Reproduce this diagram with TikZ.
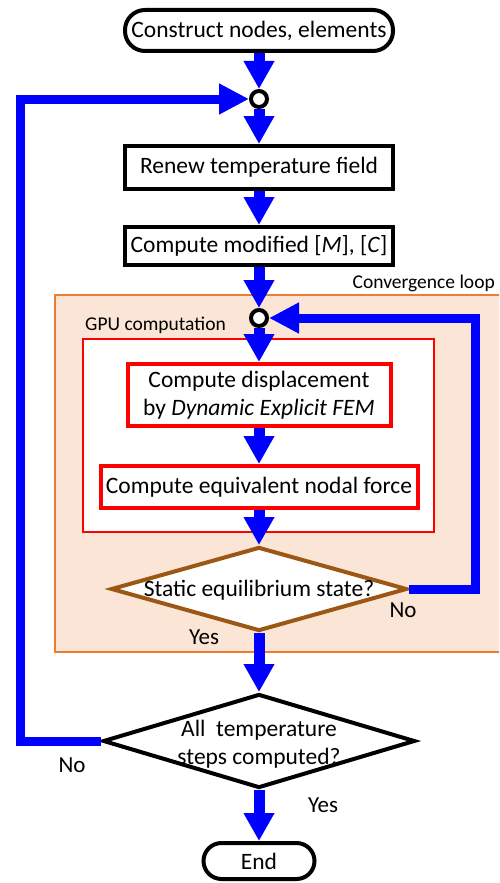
\documentclass[tikz,border=0pt]{standalone}
\usepackage{fontspec}
\setmainfont{Carlito}
\usetikzlibrary{arrows.meta,shapes.geometric}
\definecolor{fblue}{RGB}{0,0,255}
\definecolor{convfill}{RGB}{251,229,214}
\definecolor{convdraw}{RGB}{237,125,49}
\definecolor{brownd}{RGB}{156,87,20}
\newcommand{\mainfs}{\fontsize{23.5pt}{28pt}\selectfont}
\newcommand{\smallfs}{\fontsize{19.5pt}{22pt}\selectfont}
\newcommand{\lblfs}{\fontsize{23pt}{26pt}\selectfont}
\begin{document}
\begin{tikzpicture}[x=1pt,y=-1pt,
  term/.style={draw=black, line width=4pt, fill=white, rounded corners=20pt, font=\mainfs, inner sep=0pt},
  box/.style={draw=black, line width=4pt, fill=white, rectangle, font=\mainfs, inner sep=0pt},
  redbox/.style={draw=red, line width=4pt, fill=white, rectangle, font=\mainfs, inner sep=0pt, align=center},
  junc/.style={circle, draw=black, line width=4pt, fill=white, minimum size=16pt, inner sep=0pt},
  dia/.style={diamond, line width=4pt, fill=white, inner sep=0pt},
  flow/.style={draw=fblue, line width=11pt, -{Triangle[width=29pt,length=28pt]}},
  loopline/.style={draw=fblue, line width=9pt, line join=miter, -{Triangle[width=29pt,length=30pt]}},
  lbl/.style={font=\lblfs, inner sep=0pt}
]
\clip (0,0) rectangle (499,883);
% containers
\node[draw=convdraw, fill=convfill, line width=2pt, minimum width=465pt, minimum height=357pt, inner sep=0pt] (conv) at (287.5,473.5) {};
\node[draw=red, fill=white, line width=2pt, minimum width=351pt, minimum height=193pt, inner sep=0pt] (gpu) at (258.5,435.5) {};
\node[font=\smallfs, anchor=east, inner sep=0pt] (convlbl) at (495,283) {Convergence loop};
\node[font=\smallfs, anchor=west, inner sep=0pt] (gpulbl) at (85,325) {GPU computation};
% main nodes
\node[term, minimum width=268pt, minimum height=41pt] (start) at (259,30.5) {Construct nodes, elements};
\node[junc] (c1) at (259,99) {};
\node[box, minimum width=268pt, minimum height=43pt] (renew) at (259,167.5) {Renew temperature field};
\node[box, minimum width=268pt, minimum height=38pt] (modified) at (259,246) {Compute modified [\textit{M}], [\textit{C}]};
\node[junc] (c2) at (259,318) {};
\node[redbox, minimum width=263pt, minimum height=62pt] (disp) at (259,395) {Compute displacement\\by \textit{Dynamic Explicit FEM}};
\node[redbox, minimum width=317pt, minimum height=42pt] (force) at (259,487) {Compute equivalent nodal force};
\node[dia, draw=brownd, minimum width=296pt, minimum height=84pt] (d1) at (259,589) {};
\node[font=\mainfs, inner sep=0pt] (d1txt) at (259,590) {Static equilibrium state?};
\node[dia, draw=black, minimum width=312pt, minimum height=94pt] (d2) at (259,741) {};
\node[font=\mainfs, inner sep=0pt, align=center] (d2txt) at (259,744) {All~ temperature\\steps computed?};
\node[term, minimum width=111pt, minimum height=36pt, rounded corners=18pt] (end) at (259,861) {End};
% labels
\node[lbl] (no1) at (403,610) {No};
\node[lbl] (yes1) at (204,637) {Yes};
\node[lbl] (no2) at (72,765) {No};
\node[lbl] (yes2) at (323,805) {Yes};
% connectors
\draw[flow] (start.south) -- (c1.north);
\draw[flow] (c1.south) -- (renew.north);
\draw[flow] (renew.south) -- (modified.north);
\draw[flow] (modified.south) -- (c2.north);
\draw[flow] (c2.south) -- (disp.north);
\draw[flow] (disp.south) -- (force.north);
\draw[flow] (force.south) -- (d1.north);
\draw[flow] (d1.south) -- (d2.north);
\draw[flow] (d2.south) -- (end.north);
\coordinate (r1) at (475,318);
\coordinate (l1) at (20,99);
\draw[loopline] (d1.east) -| (r1) -- (c2.east);
\draw[loopline] (d2.west) -| (l1) -- (c1.west);
\end{tikzpicture}
\end{document}
